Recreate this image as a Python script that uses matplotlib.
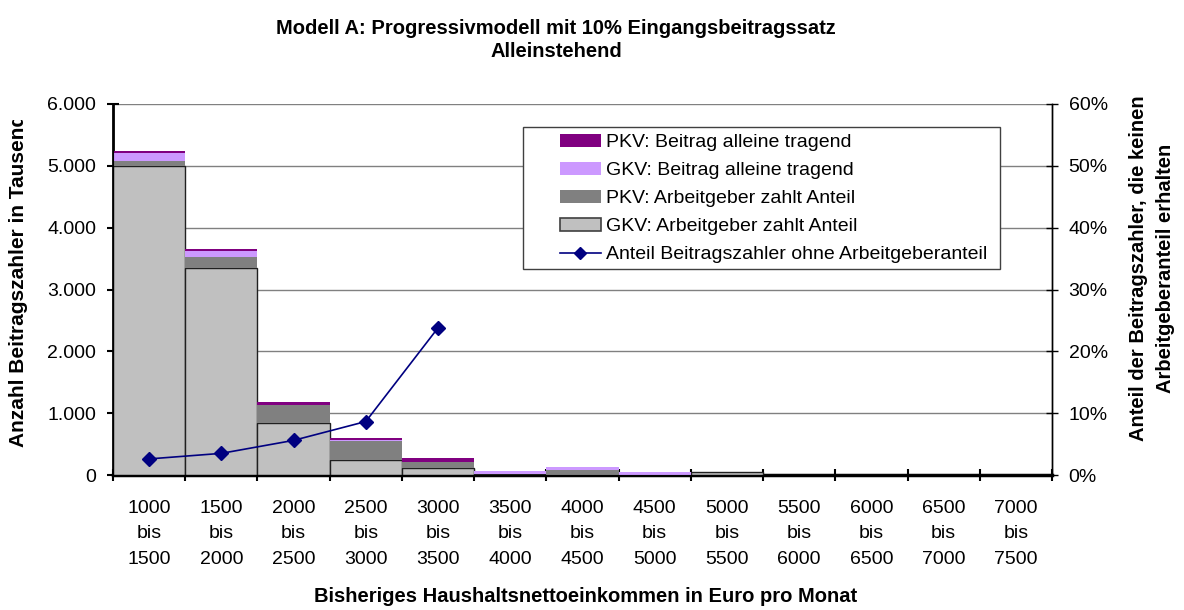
import matplotlib
matplotlib.use("Agg")
import matplotlib.pyplot as plt
import numpy as np
from matplotlib.ticker import FuncFormatter, MultipleLocator
from matplotlib.lines import Line2D
from matplotlib.patches import Patch, Rectangle
from matplotlib.transforms import Bbox

plt.rcParams["font.family"] = ["Liberation Sans", "DejaVu Sans"]

W, H = 1184, 610

# ── data ──────────────────────────────────────────────────────────────────────
categories = ["1000\nbis\n1500", "1500\nbis\n2000", "2000\nbis\n2500", "2500\nbis\n3000",
              "3000\nbis\n3500", "3500\nbis\n4000", "4000\nbis\n4500", "4500\nbis\n5000",
              "5000\nbis\n5500", "5500\nbis\n6000", "6000\nbis\n6500", "6500\nbis\n7000",
              "7000\nbis\n7500"]
gkv_ag = [5000, 3350, 840, 240, 120, 20, 0, 0, 45, 0, 0, 0, 0]        # GKV: Arbeitgeber zahlt Anteil
pkv_ag = [75, 180, 285, 310, 90, 0, 85, 0, 0, 0, 0, 0, 0]             # PKV: Arbeitgeber zahlt Anteil
gkv_allein = [135, 90, 15, 15, 0, 50, 40, 50, 0, 0, 0, 0, 0]          # GKV: Beitrag alleine tragend
pkv_allein = [27, 40, 40, 35, 65, 0, 0, 0, 0, 0, 0, 0, 0]             # PKV: Beitrag alleine tragend
anteil_ohne_ag = [2.6, 3.5, 5.6, 8.65, 23.8]                          # % (right axis), first 5 classes


def fx(px):
    return px / W


def fy(py):
    return 1 - py / H


# ── figure ────────────────────────────────────────────────────────────────────
fig = plt.figure(figsize=(W / 100, H / 100), dpi=100)
ax = fig.add_axes([fx(113), fy(475), (1052 - 113) / W, (475 - 104) / H])

x = np.arange(len(categories))
gkv_ag_a = np.array(gkv_ag, float)
pkv_ag_a = np.array(pkv_ag, float)
gkv_al_a = np.array(gkv_allein, float)
pkv_al_a = np.array(pkv_allein, float)

ax.bar(x, gkv_ag_a, width=1.0, color="#C0C0C0", edgecolor="#202020", linewidth=1.0, zorder=3)
ax.bar(x, pkv_ag_a, width=1.0, bottom=gkv_ag_a, color="#808080", linewidth=0, zorder=3)
ax.bar(x, gkv_al_a, width=1.0, bottom=gkv_ag_a + pkv_ag_a, color="#CC99FF", linewidth=0, zorder=3)
ax.bar(x, pkv_al_a, width=1.0, bottom=gkv_ag_a + pkv_ag_a + gkv_al_a, color="#800080",
       linewidth=0, zorder=3)

ax.set_xlim(-0.5, len(categories) - 0.5)
ax.set_ylim(0, 6000)
ax.yaxis.set_major_locator(MultipleLocator(1000))
ax.yaxis.set_major_formatter(FuncFormatter(lambda v, p: f"{int(v):,}".replace(",", ".")))
ax.grid(axis="y", color="#808080", linewidth=1.0, zorder=0)
ax.set_xticks(np.arange(len(categories) + 1) - 0.5)
ax.set_xticklabels([""] * (len(categories) + 1))
ax.set_xticks(x, minor=True)
ax.set_xticklabels(categories, minor=True, fontsize=14, linespacing=1.65)
ax.tick_params(axis="x", which="minor", length=0, pad=18)
ax.tick_params(axis="x", which="major", length=8, width=1.5, direction="inout")
ax.tick_params(axis="y", labelsize=14, length=8, direction="inout", width=1.5, pad=8)
ax.spines["top"].set_visible(False)
ax.spines["bottom"].set_linewidth(2.5)
ax.spines["left"].set_linewidth(2.0)
ax.spines["right"].set_linewidth(1.0)

ax2 = ax.twinx()
ax2.plot(x[:len(anteil_ohne_ag)], anteil_ohne_ag, color="#000080", linewidth=1.2,
         marker="D", markersize=7, zorder=5)
ax2.set_ylim(0, 60)
ax2.yaxis.set_major_locator(MultipleLocator(10))
ax2.yaxis.set_major_formatter(FuncFormatter(lambda v, p: f"{int(v)}%"))
ax2.tick_params(axis="y", labelsize=14, length=8, direction="inout", width=1.0, pad=8)
ax2.spines["top"].set_visible(False)
ax2.spines["right"].set_linewidth(1.0)

# ── labels ────────────────────────────────────────────────────────────────────
fig.text(fx(556), fy(40), "Modell A: Progressivmodell mit 10% Eingangsbeitragssatz\nAlleinstehend",
         ha="center", va="center", fontsize=14.5, fontweight="bold", linespacing=1.25)
fig.text(fx(586), fy(596), "Bisheriges Haushaltsnettoeinkommen in Euro pro Monat",
         ha="center", va="center", fontsize=14.5, fontweight="bold")
yl = fig.text(fx(18.5), fy(447), "Anzahl Beitragszahler in Tausend", rotation=90,
              ha="center", va="bottom", fontsize=15, fontweight="bold")
yl.set_clip_box(Bbox([[0, 0], [W, H - 120]]))
yl.set_clip_on(True)
fig.text(fx(1152), fy(268), "Anteil der Beitragszahler, die keinen\nArbeitgeberanteil erhalten",
         rotation=90, ha="center", va="center", fontsize=14.5, fontweight="bold",
         multialignment="center", linespacing=1.55)

# ── legend ────────────────────────────────────────────────────────────────────
handles = [
    Patch(facecolor="#800080", edgecolor="none"),
    Patch(facecolor="#CC99FF", edgecolor="none"),
    Patch(facecolor="#808080", edgecolor="none"),
    Patch(facecolor="#C0C0C0", edgecolor="#404040", linewidth=1.2),
    Line2D([0], [0], color="#000080", marker="D", markersize=6, linewidth=1.2),
]
labels = ["PKV: Beitrag alleine tragend", "GKV: Beitrag alleine tragend",
          "PKV: Arbeitgeber zahlt Anteil", "GKV: Arbeitgeber zahlt Anteil",
          "Anteil Beitragszahler ohne Arbeitgeberanteil"]
fig.legend(handles, labels, loc="upper left", bbox_to_anchor=(fx(560), fy(134)),
           bbox_transform=fig.transFigure, fontsize=14, frameon=False,
           handlelength=2.1, handleheight=0.62, borderpad=0, borderaxespad=0,
           labelspacing=0.56, handletextpad=0.26)
fig.patches.append(Rectangle((fx(523), fy(269)), fx(1000) - fx(523), fy(127) - fy(269),
                             transform=fig.transFigure, facecolor="white",
                             edgecolor="#404040", linewidth=1.0, zorder=0.5))

fig.savefig("out.png", dpi=100, facecolor="white")
